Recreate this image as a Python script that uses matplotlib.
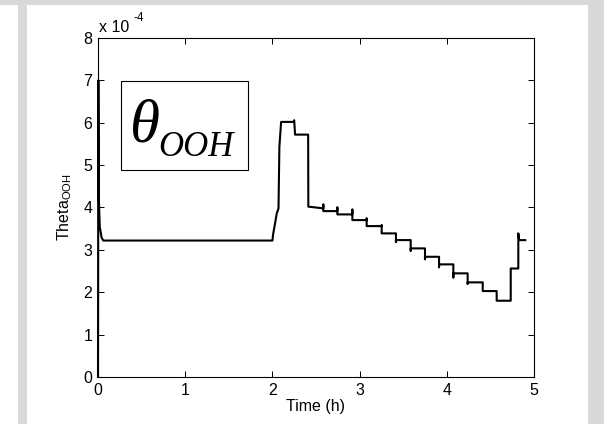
import numpy as np
import matplotlib
matplotlib.use('Agg')
import matplotlib.pyplot as plt
from matplotlib.patches import Rectangle
from matplotlib.ticker import FuncFormatter

plt.rcParams['font.family'] = ['Liberation Sans', 'DejaVu Sans']
plt.rcParams['mathtext.fontset'] = 'custom'
plt.rcParams['mathtext.rm'] = 'Liberation Sans'
plt.rcParams['mathtext.it'] = 'Liberation Sans:italic'
plt.rcParams['axes.unicode_minus'] = False

# time (h) and theta_OOH (in units of 1e-4)
time_h = [0.0, 0.004, 0.01, 0.02, 0.04, 0.06,
          2.0, 2.01, 2.03, 2.05, 2.07, 2.08, 2.10, 2.24, 2.25, 2.26, 2.41,
          2.412, 2.584, 2.584, 2.584,
          2.745, 2.745, 2.745,
          2.917, 2.917, 2.917,
          3.081, 3.081, 3.081,
          3.253, 3.253, 3.253,
          3.417, 3.417, 3.417,
          3.586, 3.586, 3.586,
          3.750, 3.750, 3.750,
          3.911, 3.911, 3.911,
          4.075, 4.075, 4.075,
          4.239, 4.239, 4.239,
          4.412, 4.412,
          4.572, 4.572,
          4.733, 4.733,
          4.82, 4.82, 4.83, 4.90]
theta = [0.0, 7.0, 4.2, 3.55, 3.3, 3.22,
         3.22, 3.39, 3.62, 3.86, 3.98, 5.43, 6.02, 6.02, 6.06, 5.72, 5.72,
         4.02, 3.98, 4.07, 3.915,
         3.915, 4.00, 3.837,
         3.837, 3.95, 3.703,
         3.703, 3.74, 3.561,
         3.561, 3.58, 3.389,
         3.389, 3.19, 3.231,
         3.231, 2.98, 3.035,
         3.035, 2.78, 2.837,
         2.837, 2.59, 2.658,
         2.658, 2.35, 2.446,
         2.446, 2.20, 2.233,
         2.233, 2.028,
         2.028, 1.80,
         1.80, 2.56,
         2.56, 3.39, 3.23, 3.23]

x_ticks = [0, 1, 2, 3, 4, 5]
y_ticks = [0, 1, 2, 3, 4, 5, 6, 7, 8]

fs = 11.5

fig = plt.figure(figsize=(6.04, 4.24), dpi=100, facecolor='#d9d9d9')
# white panels of the original window
fig.patches.append(Rectangle((0, 0), 18 / 604, 419 / 424, transform=fig.transFigure,
                             facecolor='white', edgecolor='none', zorder=-2))
fig.patches.append(Rectangle((27 / 604, 0), 561 / 604, 419 / 424, transform=fig.transFigure,
                             facecolor='white', edgecolor='none', zorder=-2))

ax = fig.add_axes([98 / 604, 47 / 424, 436 / 604, 339 / 424])
ax.set_zorder(1)
ax.plot(time_h, np.array(theta) * 1e-4, color='black', lw=1.5, clip_on=False)

ax.set_xlim(0, 5)
ax.set_ylim(0, 8e-4)
ax.set_xticks(x_ticks)
ax.set_yticks(np.array(y_ticks) * 1e-4)
ax.yaxis.set_major_formatter(FuncFormatter(lambda v, _: f'{v * 1e4:g}'))
ax.tick_params(direction='in', length=4, width=0.7, top=True, right=True,
               labelsize=fs, pad=4)
for s in ax.spines.values():
    s.set_linewidth(0.8)

ax.set_xlabel('Time (h)', fontsize=fs, labelpad=1)
ax.set_ylabel(r'Theta$_{\mathregular{OOH}}$', fontsize=fs, labelpad=7)

# exponent label above the y axis
fig.text(99 / 604, (424 - 31.7) / 424, 'x 10', fontsize=fs, ha='left', va='baseline')
fig.text(133 / 604, (424 - 21) / 424, '-4', fontsize=8.5, ha='left', va='baseline')

# boxed annotation
fig.patches.append(Rectangle((120.7 / 604, (424 - 170) / 424), 127 / 604, 89.3 / 424,
                             transform=fig.transFigure, facecolor='white',
                             edgecolor='black', lw=0.8, zorder=5))
fig.text(129 / 604, (424 - 141) / 424, '\u03b8', fontsize=44, family='Liberation Serif',
         style='italic', ha='left', va='baseline', zorder=6)
fig.text(158 / 604, (424 - 156) / 424, 'OOH', fontsize=25, family='Liberation Serif',
         style='italic', ha='left', va='baseline', zorder=6)

fig.savefig('out.png', dpi=100, facecolor=fig.get_facecolor())
